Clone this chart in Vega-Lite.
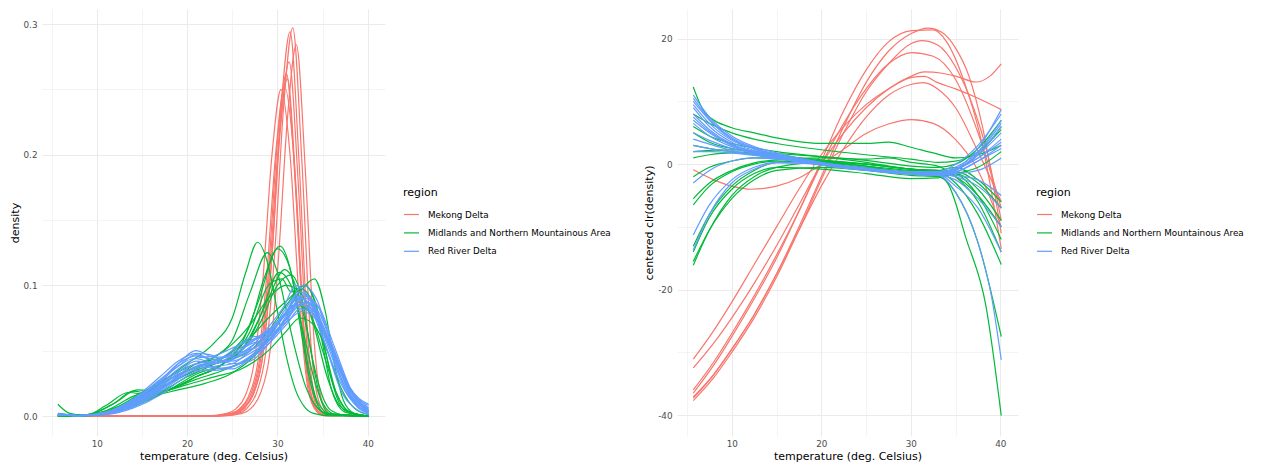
{
"$schema":"https://vega.github.io/schema/vega-lite/v6.json",
"background":"white",
"padding":{"left":9,"top":9,"right":0,"bottom":0},
"autosize":{"type":"pad"},
"config":{
"font":"DejaVu Sans",
"view":{"stroke":null},
"axis":{"domain":false,"ticks":false,"gridColor":"#EBEBEB","labelColor":"#4D4D4D","labelFontSize":8.8,"titleFontSize":11,"titleColor":"#000000","titleFontWeight":"normal","labelPadding":5,"titlePadding":3},
"legend":{"titleFontSize":11,"titleFontWeight":"normal","titleColor":"#000000","labelFontSize":8.8,"labelColor":"#000000","symbolType":"stroke","symbolSize":225,"symbolStrokeWidth":1.2,"rowPadding":4.4,"labelOffset":8,"titlePadding":8,"padding":0,"labelLimit":400}
},
"datasets":{
"reg":[
{"c":"M1","region":"Mekong Delta"},{"c":"M2","region":"Mekong Delta"},{"c":"M3","region":"Mekong Delta"},{"c":"M4","region":"Mekong Delta"},{"c":"M5","region":"Mekong Delta"},{"c":"M6","region":"Mekong Delta"},{"c":"M7","region":"Mekong Delta"},{"c":"M8","region":"Mekong Delta"},
{"c":"G1","region":"Midlands and Northern Mountainous Area"},{"c":"G2","region":"Midlands and Northern Mountainous Area"},{"c":"G3","region":"Midlands and Northern Mountainous Area"},{"c":"G4","region":"Midlands and Northern Mountainous Area"},{"c":"G5","region":"Midlands and Northern Mountainous Area"},{"c":"G6","region":"Midlands and Northern Mountainous Area"},{"c":"G7","region":"Midlands and Northern Mountainous Area"},{"c":"G8","region":"Midlands and Northern Mountainous Area"},{"c":"G9","region":"Midlands and Northern Mountainous Area"},{"c":"G10","region":"Midlands and Northern Mountainous Area"},{"c":"G11","region":"Midlands and Northern Mountainous Area"},{"c":"G12","region":"Midlands and Northern Mountainous Area"},{"c":"G13","region":"Midlands and Northern Mountainous Area"},{"c":"G14","region":"Midlands and Northern Mountainous Area"},
{"c":"B1","region":"Red River Delta"},{"c":"B2","region":"Red River Delta"},{"c":"B3","region":"Red River Delta"},{"c":"B4","region":"Red River Delta"},{"c":"B5","region":"Red River Delta"},{"c":"B6","region":"Red River Delta"},{"c":"B7","region":"Red River Delta"},{"c":"B8","region":"Red River Delta"},{"c":"B9","region":"Red River Delta"},{"c":"B10","region":"Red River Delta"},{"c":"B11","region":"Red River Delta"},{"c":"B12","region":"Red River Delta"},{"c":"B13","region":"Red River Delta"},{"c":"B14","region":"Red River Delta"},{"c":"B15","region":"Red River Delta"},{"c":"B16","region":"Red River Delta"}
],
"a":[
{"c":"M1","t":5.7,"y":0},{"c":"M1","t":23.7,"y":0.0001},{"c":"M1","t":25.7,"y":0.002},{"c":"M1","t":26.7,"y":0.0065},{"c":"M1","t":27.7,"y":0.018},{"c":"M1","t":28.7,"y":0.048},{"c":"M1","t":29.7,"y":0.125},{"c":"M1","t":30.7,"y":0.238},{"c":"M1","t":31.7,"y":0.297},{"c":"M1","t":32.7,"y":0.196},{"c":"M1","t":33.7,"y":0.056},{"c":"M1","t":34.7,"y":0.009},{"c":"M1","t":35.7,"y":0.001},{"c":"M1","t":40.1,"y":0},
{"c":"M2","t":5.7,"y":0},{"c":"M2","t":23.4,"y":0.0001},{"c":"M2","t":25.4,"y":0.002},{"c":"M2","t":26.4,"y":0.0065},{"c":"M2","t":27.4,"y":0.018},{"c":"M2","t":28.4,"y":0.047},{"c":"M2","t":29.4,"y":0.123},{"c":"M2","t":30.4,"y":0.235},{"c":"M2","t":31.4,"y":0.294},{"c":"M2","t":32.4,"y":0.194},{"c":"M2","t":33.4,"y":0.056},{"c":"M2","t":34.4,"y":0.009},{"c":"M2","t":35.4,"y":0.001},{"c":"M2","t":40.1,"y":0},
{"c":"M3","t":5.7,"y":0},{"c":"M3","t":24.1,"y":0.0001},{"c":"M3","t":26.1,"y":0.002},{"c":"M3","t":27.1,"y":0.006},{"c":"M3","t":28.1,"y":0.017},{"c":"M3","t":29.1,"y":0.045},{"c":"M3","t":30.1,"y":0.119},{"c":"M3","t":31.1,"y":0.227},{"c":"M3","t":32.1,"y":0.284},{"c":"M3","t":33.1,"y":0.187},{"c":"M3","t":34.1,"y":0.054},{"c":"M3","t":35.1,"y":0.0085},{"c":"M3","t":36.1,"y":0.001},{"c":"M3","t":40.1,"y":0},
{"c":"M4","t":5.7,"y":0},{"c":"M4","t":23.3,"y":0.0001},{"c":"M4","t":25.3,"y":0.002},{"c":"M4","t":26.3,"y":0.006},{"c":"M4","t":27.3,"y":0.016},{"c":"M4","t":28.3,"y":0.043},{"c":"M4","t":29.3,"y":0.114},{"c":"M4","t":30.3,"y":0.217},{"c":"M4","t":31.3,"y":0.271},{"c":"M4","t":32.3,"y":0.179},{"c":"M4","t":33.3,"y":0.051},{"c":"M4","t":34.3,"y":0.008},{"c":"M4","t":35.3,"y":0.001},{"c":"M4","t":40.1,"y":0},
{"c":"M5","t":5.7,"y":0},{"c":"M5","t":23.1,"y":0.0001},{"c":"M5","t":25.1,"y":0.002},{"c":"M5","t":26.1,"y":0.0057},{"c":"M5","t":27.1,"y":0.015},{"c":"M5","t":28.1,"y":0.041},{"c":"M5","t":29.1,"y":0.108},{"c":"M5","t":30.1,"y":0.206},{"c":"M5","t":31.1,"y":0.258},{"c":"M5","t":32.1,"y":0.17},{"c":"M5","t":33.1,"y":0.049},{"c":"M5","t":34.1,"y":0.008},{"c":"M5","t":35.1,"y":0.001},{"c":"M5","t":40.1,"y":0},
{"c":"M6","t":5.7,"y":0},{"c":"M6","t":22.4,"y":0.0001},{"c":"M6","t":24.4,"y":0.002},{"c":"M6","t":25.4,"y":0.0055},{"c":"M6","t":26.4,"y":0.015},{"c":"M6","t":27.4,"y":0.04},{"c":"M6","t":28.4,"y":0.105},{"c":"M6","t":29.4,"y":0.2},{"c":"M6","t":30.4,"y":0.25},{"c":"M6","t":31.4,"y":0.2},{"c":"M6","t":32.4,"y":0.09},{"c":"M6","t":33.4,"y":0.02},{"c":"M6","t":34.4,"y":0.003},{"c":"M6","t":35.4,"y":0},{"c":"M6","t":40.1,"y":0},
{"c":"M7","t":5.7,"y":0},{"c":"M7","t":22.8,"y":0.0001},{"c":"M7","t":24.8,"y":0.002},{"c":"M7","t":25.8,"y":0.0055},{"c":"M7","t":26.8,"y":0.015},{"c":"M7","t":27.8,"y":0.04},{"c":"M7","t":28.8,"y":0.106},{"c":"M7","t":29.8,"y":0.2},{"c":"M7","t":30.8,"y":0.252},{"c":"M7","t":31.8,"y":0.2},{"c":"M7","t":32.8,"y":0.08},{"c":"M7","t":33.8,"y":0.015},{"c":"M7","t":34.8,"y":0.002},{"c":"M7","t":40.1,"y":0},
{"c":"M8","t":5.7,"y":0},{"c":"M8","t":23,"y":0.0001},{"c":"M8","t":25,"y":0.002},{"c":"M8","t":26,"y":0.006},{"c":"M8","t":27,"y":0.016},{"c":"M8","t":28,"y":0.042},{"c":"M8","t":29,"y":0.11},{"c":"M8","t":30,"y":0.21},{"c":"M8","t":31,"y":0.262},{"c":"M8","t":32,"y":0.175},{"c":"M8","t":33,"y":0.05},{"c":"M8","t":34,"y":0.008},{"c":"M8","t":35,"y":0.001},{"c":"M8","t":40.1,"y":0},
{"c":"G1","t":5.7,"y":0.002},{"c":"G1","t":8,"y":0.0005},{"c":"G1","t":11,"y":0.003},{"c":"G1","t":14,"y":0.012},{"c":"G1","t":17,"y":0.025},{"c":"G1","t":20,"y":0.04},{"c":"G1","t":23,"y":0.056},{"c":"G1","t":25,"y":0.075},{"c":"G1","t":26.5,"y":0.11},{"c":"G1","t":27.8,"y":0.133},{"c":"G1","t":29,"y":0.115},{"c":"G1","t":30,"y":0.08},{"c":"G1","t":31,"y":0.045},{"c":"G1","t":32,"y":0.02},{"c":"G1","t":33,"y":0.007},{"c":"G1","t":34,"y":0.002},{"c":"G1","t":36,"y":0},{"c":"G1","t":40.1,"y":0},
{"c":"G2","t":5.7,"y":0.001},{"c":"G2","t":8,"y":0.0005},{"c":"G2","t":11,"y":0.004},{"c":"G2","t":14,"y":0.015},{"c":"G2","t":17,"y":0.022},{"c":"G2","t":20,"y":0.032},{"c":"G2","t":23,"y":0.045},{"c":"G2","t":25,"y":0.058},{"c":"G2","t":27,"y":0.095},{"c":"G2","t":28.9,"y":0.125},{"c":"G2","t":30,"y":0.11},{"c":"G2","t":31,"y":0.08},{"c":"G2","t":32,"y":0.05},{"c":"G2","t":33,"y":0.025},{"c":"G2","t":34,"y":0.01},{"c":"G2","t":35,"y":0.003},{"c":"G2","t":36,"y":0.001},{"c":"G2","t":40.1,"y":0},
{"c":"G3","t":5.7,"y":0},{"c":"G3","t":8,"y":0.0002},{"c":"G3","t":11,"y":0.002},{"c":"G3","t":14,"y":0.008},{"c":"G3","t":17,"y":0.018},{"c":"G3","t":20,"y":0.03},{"c":"G3","t":23,"y":0.04},{"c":"G3","t":25,"y":0.05},{"c":"G3","t":27,"y":0.07},{"c":"G3","t":28.5,"y":0.105},{"c":"G3","t":30.3,"y":0.13},{"c":"G3","t":31.5,"y":0.11},{"c":"G3","t":32.5,"y":0.07},{"c":"G3","t":33.5,"y":0.03},{"c":"G3","t":34.5,"y":0.008},{"c":"G3","t":35.5,"y":0.001},{"c":"G3","t":40.1,"y":0},
{"c":"G4","t":5.7,"y":0.009},{"c":"G4","t":7,"y":0.002},{"c":"G4","t":9,"y":0.0002},{"c":"G4","t":12,"y":0.004},{"c":"G4","t":15,"y":0.015},{"c":"G4","t":18,"y":0.02},{"c":"G4","t":21,"y":0.03},{"c":"G4","t":24,"y":0.04},{"c":"G4","t":26,"y":0.055},{"c":"G4","t":28,"y":0.09},{"c":"G4","t":30,"y":0.128},{"c":"G4","t":31.3,"y":0.115},{"c":"G4","t":32.5,"y":0.075},{"c":"G4","t":33.5,"y":0.035},{"c":"G4","t":34.5,"y":0.01},{"c":"G4","t":36,"y":0.001},{"c":"G4","t":40.1,"y":0},
{"c":"G5","t":5.7,"y":0},{"c":"G5","t":9,"y":0.001},{"c":"G5","t":12,"y":0.01},{"c":"G5","t":14,"y":0.019},{"c":"G5","t":16,"y":0.017},{"c":"G5","t":18,"y":0.02},{"c":"G5","t":21,"y":0.03},{"c":"G5","t":24,"y":0.04},{"c":"G5","t":27,"y":0.06},{"c":"G5","t":29,"y":0.09},{"c":"G5","t":30.8,"y":0.112},{"c":"G5","t":32,"y":0.1},{"c":"G5","t":33,"y":0.075},{"c":"G5","t":34,"y":0.04},{"c":"G5","t":35,"y":0.015},{"c":"G5","t":36,"y":0.004},{"c":"G5","t":38,"y":0},{"c":"G5","t":40.1,"y":0},
{"c":"G6","t":5.7,"y":0},{"c":"G6","t":9,"y":0.0005},{"c":"G6","t":12,"y":0.004},{"c":"G6","t":15,"y":0.012},{"c":"G6","t":18,"y":0.02},{"c":"G6","t":21,"y":0.028},{"c":"G6","t":24,"y":0.035},{"c":"G6","t":27,"y":0.045},{"c":"G6","t":29,"y":0.06},{"c":"G6","t":31,"y":0.08},{"c":"G6","t":32.5,"y":0.095},{"c":"G6","t":34.1,"y":0.105},{"c":"G6","t":35.3,"y":0.08},{"c":"G6","t":36.3,"y":0.04},{"c":"G6","t":37.3,"y":0.012},{"c":"G6","t":38.5,"y":0.002},{"c":"G6","t":40.1,"y":0},
{"c":"G7","t":5.7,"y":0},{"c":"G7","t":9,"y":0.0005},{"c":"G7","t":12,"y":0.005},{"c":"G7","t":15,"y":0.016},{"c":"G7","t":18,"y":0.025},{"c":"G7","t":21,"y":0.035},{"c":"G7","t":24,"y":0.042},{"c":"G7","t":27,"y":0.05},{"c":"G7","t":29,"y":0.065},{"c":"G7","t":31,"y":0.085},{"c":"G7","t":33,"y":0.1},{"c":"G7","t":34.3,"y":0.085},{"c":"G7","t":35.3,"y":0.05},{"c":"G7","t":36.3,"y":0.02},{"c":"G7","t":37.5,"y":0.004},{"c":"G7","t":40.1,"y":0},
{"c":"G8","t":5.7,"y":0},{"c":"G8","t":9,"y":0.001},{"c":"G8","t":12,"y":0.006},{"c":"G8","t":15,"y":0.018},{"c":"G8","t":18,"y":0.03},{"c":"G8","t":21,"y":0.04},{"c":"G8","t":24,"y":0.045},{"c":"G8","t":26,"y":0.05},{"c":"G8","t":28,"y":0.07},{"c":"G8","t":30,"y":0.1},{"c":"G8","t":31.5,"y":0.108},{"c":"G8","t":32.7,"y":0.09},{"c":"G8","t":33.7,"y":0.05},{"c":"G8","t":34.7,"y":0.015},{"c":"G8","t":35.7,"y":0.002},{"c":"G8","t":40.1,"y":0},
{"c":"G9","t":5.7,"y":0},{"c":"G9","t":9,"y":0.001},{"c":"G9","t":11,"y":0.008},{"c":"G9","t":13.5,"y":0.018},{"c":"G9","t":16,"y":0.016},{"c":"G9","t":19,"y":0.02},{"c":"G9","t":22,"y":0.025},{"c":"G9","t":25,"y":0.033},{"c":"G9","t":28,"y":0.05},{"c":"G9","t":30,"y":0.07},{"c":"G9","t":32,"y":0.085},{"c":"G9","t":33.5,"y":0.08},{"c":"G9","t":35,"y":0.05},{"c":"G9","t":36.5,"y":0.018},{"c":"G9","t":38,"y":0.003},{"c":"G9","t":40.1,"y":0},
{"c":"G10","t":5.7,"y":0},{"c":"G10","t":9,"y":0.0003},{"c":"G10","t":12,"y":0.003},{"c":"G10","t":15,"y":0.012},{"c":"G10","t":18,"y":0.025},{"c":"G10","t":21,"y":0.04},{"c":"G10","t":23,"y":0.045},{"c":"G10","t":25,"y":0.055},{"c":"G10","t":27,"y":0.07},{"c":"G10","t":29,"y":0.09},{"c":"G10","t":31,"y":0.1},{"c":"G10","t":32.5,"y":0.095},{"c":"G10","t":34,"y":0.07},{"c":"G10","t":35.5,"y":0.03},{"c":"G10","t":37,"y":0.007},{"c":"G10","t":39,"y":0.001},{"c":"G10","t":40.1,"y":0},
{"c":"G11","t":5.7,"y":0},{"c":"G11","t":9,"y":0.0005},{"c":"G11","t":12,"y":0.005},{"c":"G11","t":15,"y":0.014},{"c":"G11","t":18,"y":0.02},{"c":"G11","t":21,"y":0.03},{"c":"G11","t":24,"y":0.04},{"c":"G11","t":27,"y":0.065},{"c":"G11","t":29,"y":0.1},{"c":"G11","t":30.5,"y":0.105},{"c":"G11","t":31.5,"y":0.095},{"c":"G11","t":33,"y":0.1},{"c":"G11","t":34,"y":0.09},{"c":"G11","t":35,"y":0.055},{"c":"G11","t":36,"y":0.02},{"c":"G11","t":37.5,"y":0.003},{"c":"G11","t":40.1,"y":0},
{"c":"G12","t":5.7,"y":0},{"c":"G12","t":9,"y":0.001},{"c":"G12","t":12,"y":0.01},{"c":"G12","t":14.5,"y":0.02},{"c":"G12","t":17,"y":0.019},{"c":"G12","t":20,"y":0.024},{"c":"G12","t":23,"y":0.03},{"c":"G12","t":26,"y":0.036},{"c":"G12","t":29,"y":0.05},{"c":"G12","t":31,"y":0.065},{"c":"G12","t":32.5,"y":0.075},{"c":"G12","t":34,"y":0.07},{"c":"G12","t":35.5,"y":0.05},{"c":"G12","t":37,"y":0.022},{"c":"G12","t":38.5,"y":0.006},{"c":"G12","t":40.1,"y":0.001},
{"c":"G13","t":5.7,"y":0},{"c":"G13","t":9,"y":0.0005},{"c":"G13","t":12,"y":0.003},{"c":"G13","t":15,"y":0.01},{"c":"G13","t":18,"y":0.02},{"c":"G13","t":21,"y":0.032},{"c":"G13","t":24,"y":0.04},{"c":"G13","t":26,"y":0.05},{"c":"G13","t":28,"y":0.075},{"c":"G13","t":30.2,"y":0.11},{"c":"G13","t":31.5,"y":0.1},{"c":"G13","t":33,"y":0.06},{"c":"G13","t":34,"y":0.03},{"c":"G13","t":35,"y":0.01},{"c":"G13","t":36.5,"y":0.001},{"c":"G13","t":40.1,"y":0},
{"c":"G14","t":5.7,"y":0},{"c":"G14","t":9,"y":0.0007},{"c":"G14","t":12,"y":0.006},{"c":"G14","t":15,"y":0.016},{"c":"G14","t":18,"y":0.028},{"c":"G14","t":21,"y":0.037},{"c":"G14","t":24,"y":0.045},{"c":"G14","t":27,"y":0.06},{"c":"G14","t":29,"y":0.075},{"c":"G14","t":31,"y":0.088},{"c":"G14","t":32.7,"y":0.097},{"c":"G14","t":34,"y":0.085},{"c":"G14","t":35.3,"y":0.05},{"c":"G14","t":36.5,"y":0.018},{"c":"G14","t":38,"y":0.003},{"c":"G14","t":40.1,"y":0},
{"c":"B1","t":5.7,"y":0.001},{"c":"B1","t":8,"y":0.0002},{"c":"B1","t":11,"y":0.002},{"c":"B1","t":14,"y":0.01},{"c":"B1","t":17,"y":0.025},{"c":"B1","t":19,"y":0.04},{"c":"B1","t":21,"y":0.05},{"c":"B1","t":23,"y":0.045},{"c":"B1","t":25,"y":0.045},{"c":"B1","t":27,"y":0.05},{"c":"B1","t":29,"y":0.06},{"c":"B1","t":31,"y":0.08},{"c":"B1","t":32.5,"y":0.095},{"c":"B1","t":34,"y":0.085},{"c":"B1","t":36,"y":0.05},{"c":"B1","t":38,"y":0.018},{"c":"B1","t":40.1,"y":0.003},
{"c":"B2","t":5.7,"y":0.001},{"c":"B2","t":8,"y":0.0003},{"c":"B2","t":11,"y":0.003},{"c":"B2","t":14,"y":0.012},{"c":"B2","t":17,"y":0.028},{"c":"B2","t":19,"y":0.038},{"c":"B2","t":21,"y":0.047},{"c":"B2","t":23,"y":0.043},{"c":"B2","t":25,"y":0.042},{"c":"B2","t":27,"y":0.048},{"c":"B2","t":29,"y":0.058},{"c":"B2","t":31,"y":0.075},{"c":"B2","t":32.3,"y":0.088},{"c":"B2","t":34,"y":0.08},{"c":"B2","t":36,"y":0.052},{"c":"B2","t":38,"y":0.02},{"c":"B2","t":40.1,"y":0.008},
{"c":"B3","t":5.7,"y":0.001},{"c":"B3","t":8,"y":0.0002},{"c":"B3","t":11,"y":0.0015},{"c":"B3","t":14,"y":0.007},{"c":"B3","t":17,"y":0.018},{"c":"B3","t":19,"y":0.028},{"c":"B3","t":21,"y":0.036},{"c":"B3","t":23,"y":0.038},{"c":"B3","t":25,"y":0.04},{"c":"B3","t":27,"y":0.05},{"c":"B3","t":29,"y":0.062},{"c":"B3","t":31,"y":0.08},{"c":"B3","t":32.8,"y":0.1},{"c":"B3","t":34.3,"y":0.09},{"c":"B3","t":36,"y":0.055},{"c":"B3","t":38,"y":0.017},{"c":"B3","t":40.1,"y":0.002},
{"c":"B4","t":5.7,"y":0.001},{"c":"B4","t":8,"y":0.0003},{"c":"B4","t":11,"y":0.002},{"c":"B4","t":14,"y":0.009},{"c":"B4","t":17,"y":0.022},{"c":"B4","t":19,"y":0.033},{"c":"B4","t":21,"y":0.042},{"c":"B4","t":23,"y":0.04},{"c":"B4","t":25,"y":0.046},{"c":"B4","t":27,"y":0.056},{"c":"B4","t":29,"y":0.065},{"c":"B4","t":31,"y":0.078},{"c":"B4","t":32.5,"y":0.085},{"c":"B4","t":34,"y":0.078},{"c":"B4","t":36,"y":0.05},{"c":"B4","t":38,"y":0.02},{"c":"B4","t":40.1,"y":0.004},
{"c":"B5","t":5.7,"y":0.001},{"c":"B5","t":8,"y":0.0003},{"c":"B5","t":11,"y":0.0025},{"c":"B5","t":14,"y":0.011},{"c":"B5","t":17,"y":0.024},{"c":"B5","t":19,"y":0.036},{"c":"B5","t":21,"y":0.044},{"c":"B5","t":23,"y":0.046},{"c":"B5","t":25,"y":0.052},{"c":"B5","t":27,"y":0.058},{"c":"B5","t":29,"y":0.062},{"c":"B5","t":31,"y":0.072},{"c":"B5","t":32.7,"y":0.08},{"c":"B5","t":34.3,"y":0.074},{"c":"B5","t":36,"y":0.05},{"c":"B5","t":38,"y":0.022},{"c":"B5","t":40.1,"y":0.006},
{"c":"B6","t":5.7,"y":0.001},{"c":"B6","t":8,"y":0.0002},{"c":"B6","t":11,"y":0.001},{"c":"B6","t":14,"y":0.006},{"c":"B6","t":17,"y":0.016},{"c":"B6","t":19,"y":0.026},{"c":"B6","t":21,"y":0.034},{"c":"B6","t":23,"y":0.036},{"c":"B6","t":25,"y":0.038},{"c":"B6","t":27,"y":0.045},{"c":"B6","t":29,"y":0.057},{"c":"B6","t":31,"y":0.077},{"c":"B6","t":32,"y":0.09},{"c":"B6","t":33.3,"y":0.093},{"c":"B6","t":35,"y":0.07},{"c":"B6","t":37,"y":0.03},{"c":"B6","t":39,"y":0.006},{"c":"B6","t":40.1,"y":0.002},
{"c":"B7","t":5.7,"y":0.001},{"c":"B7","t":8,"y":0.0003},{"c":"B7","t":11,"y":0.003},{"c":"B7","t":14,"y":0.013},{"c":"B7","t":17,"y":0.03},{"c":"B7","t":19,"y":0.042},{"c":"B7","t":21,"y":0.048},{"c":"B7","t":22.5,"y":0.047},{"c":"B7","t":25,"y":0.04},{"c":"B7","t":27,"y":0.042},{"c":"B7","t":29,"y":0.055},{"c":"B7","t":31,"y":0.075},{"c":"B7","t":32.5,"y":0.09},{"c":"B7","t":34,"y":0.082},{"c":"B7","t":36,"y":0.052},{"c":"B7","t":38,"y":0.02},{"c":"B7","t":40.1,"y":0.005},
{"c":"B8","t":5.7,"y":0.001},{"c":"B8","t":8,"y":0.0002},{"c":"B8","t":11,"y":0.002},{"c":"B8","t":14,"y":0.009},{"c":"B8","t":17,"y":0.02},{"c":"B8","t":19,"y":0.03},{"c":"B8","t":21,"y":0.038},{"c":"B8","t":23,"y":0.04},{"c":"B8","t":25,"y":0.043},{"c":"B8","t":27,"y":0.052},{"c":"B8","t":29,"y":0.068},{"c":"B8","t":30.8,"y":0.085},{"c":"B8","t":32,"y":0.1},{"c":"B8","t":33.5,"y":0.09},{"c":"B8","t":35.3,"y":0.055},{"c":"B8","t":37,"y":0.02},{"c":"B8","t":39,"y":0.004},{"c":"B8","t":40.1,"y":0.001},
{"c":"B9","t":5.7,"y":0.001},{"c":"B9","t":8,"y":0.0003},{"c":"B9","t":11,"y":0.002},{"c":"B9","t":14,"y":0.01},{"c":"B9","t":17,"y":0.023},{"c":"B9","t":19,"y":0.034},{"c":"B9","t":21,"y":0.04},{"c":"B9","t":23,"y":0.042},{"c":"B9","t":25,"y":0.05},{"c":"B9","t":27,"y":0.06},{"c":"B9","t":28.5,"y":0.062},{"c":"B9","t":30,"y":0.07},{"c":"B9","t":32,"y":0.085},{"c":"B9","t":33.8,"y":0.082},{"c":"B9","t":35.5,"y":0.055},{"c":"B9","t":37.5,"y":0.02},{"c":"B9","t":40.1,"y":0.003},
{"c":"B10","t":5.7,"y":0.001},{"c":"B10","t":8,"y":0.0002},{"c":"B10","t":11,"y":0.0015},{"c":"B10","t":14,"y":0.008},{"c":"B10","t":17,"y":0.02},{"c":"B10","t":19,"y":0.031},{"c":"B10","t":21,"y":0.04},{"c":"B10","t":23,"y":0.037},{"c":"B10","t":25,"y":0.036},{"c":"B10","t":27,"y":0.044},{"c":"B10","t":29,"y":0.055},{"c":"B10","t":31,"y":0.07},{"c":"B10","t":32.5,"y":0.082},{"c":"B10","t":34.5,"y":0.075},{"c":"B10","t":36.5,"y":0.045},{"c":"B10","t":38.5,"y":0.015},{"c":"B10","t":40.1,"y":0.006},
{"c":"B11","t":5.7,"y":0.001},{"c":"B11","t":8,"y":0.0003},{"c":"B11","t":11,"y":0.0025},{"c":"B11","t":14,"y":0.011},{"c":"B11","t":17,"y":0.026},{"c":"B11","t":19,"y":0.038},{"c":"B11","t":20.8,"y":0.044},{"c":"B11","t":23,"y":0.041},{"c":"B11","t":25,"y":0.044},{"c":"B11","t":27,"y":0.053},{"c":"B11","t":29,"y":0.063},{"c":"B11","t":31,"y":0.083},{"c":"B11","t":32,"y":0.092},{"c":"B11","t":33.3,"y":0.087},{"c":"B11","t":35,"y":0.06},{"c":"B11","t":37,"y":0.025},{"c":"B11","t":39,"y":0.006},{"c":"B11","t":40.1,"y":0.002},
{"c":"B12","t":5.7,"y":0.001},{"c":"B12","t":8,"y":0.0003},{"c":"B12","t":11,"y":0.002},{"c":"B12","t":14,"y":0.01},{"c":"B12","t":17,"y":0.022},{"c":"B12","t":19,"y":0.032},{"c":"B12","t":21,"y":0.037},{"c":"B12","t":23,"y":0.04},{"c":"B12","t":25,"y":0.046},{"c":"B12","t":27,"y":0.055},{"c":"B12","t":29,"y":0.06},{"c":"B12","t":31,"y":0.074},{"c":"B12","t":33,"y":0.087},{"c":"B12","t":34.5,"y":0.08},{"c":"B12","t":36.3,"y":0.05},{"c":"B12","t":38,"y":0.022},{"c":"B12","t":40.1,"y":0.009},
{"c":"B13","t":5.7,"y":0.002},{"c":"B13","t":8,"y":0.0003},{"c":"B13","t":11,"y":0.002},{"c":"B13","t":14,"y":0.009},{"c":"B13","t":17,"y":0.021},{"c":"B13","t":19,"y":0.03},{"c":"B13","t":21,"y":0.038},{"c":"B13","t":23,"y":0.042},{"c":"B13","t":25,"y":0.048},{"c":"B13","t":27,"y":0.057},{"c":"B13","t":29,"y":0.066},{"c":"B13","t":31,"y":0.08},{"c":"B13","t":32.3,"y":0.09},{"c":"B13","t":33.8,"y":0.085},{"c":"B13","t":35.5,"y":0.058},{"c":"B13","t":37.5,"y":0.022},{"c":"B13","t":40.1,"y":0.004},
{"c":"B14","t":5.7,"y":0.001},{"c":"B14","t":8,"y":0.0002},{"c":"B14","t":11,"y":0.002},{"c":"B14","t":14,"y":0.008},{"c":"B14","t":17,"y":0.019},{"c":"B14","t":19,"y":0.029},{"c":"B14","t":21,"y":0.035},{"c":"B14","t":23,"y":0.035},{"c":"B14","t":25,"y":0.038},{"c":"B14","t":27,"y":0.046},{"c":"B14","t":29,"y":0.058},{"c":"B14","t":31,"y":0.074},{"c":"B14","t":33,"y":0.09},{"c":"B14","t":34.6,"y":0.083},{"c":"B14","t":36.3,"y":0.053},{"c":"B14","t":38.3,"y":0.018},{"c":"B14","t":40.1,"y":0.004},
{"c":"B15","t":5.7,"y":0.001},{"c":"B15","t":8,"y":0.0003},{"c":"B15","t":11,"y":0.0025},{"c":"B15","t":14,"y":0.012},{"c":"B15","t":17,"y":0.027},{"c":"B15","t":19,"y":0.04},{"c":"B15","t":21,"y":0.046},{"c":"B15","t":23,"y":0.043},{"c":"B15","t":25,"y":0.047},{"c":"B15","t":27,"y":0.051},{"c":"B15","t":29,"y":0.058},{"c":"B15","t":31,"y":0.072},{"c":"B15","t":32.8,"y":0.092},{"c":"B15","t":34.3,"y":0.086},{"c":"B15","t":36,"y":0.055},{"c":"B15","t":38,"y":0.02},{"c":"B15","t":40.1,"y":0.003}
],
"b":[
{"c":"M1","t":5.7,"y":-37.1},{"c":"M1","t":8,"y":-33.5},{"c":"M1","t":10,"y":-29.5},{"c":"M1","t":12.5,"y":-24},{"c":"M1","t":15,"y":-17.5},{"c":"M1","t":17.5,"y":-10},{"c":"M1","t":20,"y":-2},{"c":"M1","t":22.5,"y":6},{"c":"M1","t":25,"y":13},{"c":"M1","t":27.5,"y":18},{"c":"M1","t":30,"y":20.8},{"c":"M1","t":31.9,"y":21.7},{"c":"M1","t":33.5,"y":21},{"c":"M1","t":35,"y":18.5},{"c":"M1","t":36.5,"y":14},{"c":"M1","t":38,"y":6},{"c":"M1","t":40.1,"y":-11},
{"c":"M2","t":5.7,"y":-36.5},{"c":"M2","t":8,"y":-32},{"c":"M2","t":10,"y":-27.5},{"c":"M2","t":12.5,"y":-21.5},{"c":"M2","t":15,"y":-15},{"c":"M2","t":17.5,"y":-7.5},{"c":"M2","t":20,"y":0.5},{"c":"M2","t":22.5,"y":8.5},{"c":"M2","t":25,"y":15},{"c":"M2","t":27.5,"y":19.5},{"c":"M2","t":30.1,"y":21.3},{"c":"M2","t":32.5,"y":21.4},{"c":"M2","t":34,"y":19.5},{"c":"M2","t":36,"y":13},{"c":"M2","t":38,"y":3},{"c":"M2","t":40.1,"y":-13.5},
{"c":"M3","t":5.7,"y":-37.7},{"c":"M3","t":8,"y":-34},{"c":"M3","t":10,"y":-30},{"c":"M3","t":12.5,"y":-24.5},{"c":"M3","t":15,"y":-18},{"c":"M3","t":17.5,"y":-10.5},{"c":"M3","t":20,"y":-2.5},{"c":"M3","t":22.5,"y":5},{"c":"M3","t":25,"y":11.5},{"c":"M3","t":27.5,"y":16},{"c":"M3","t":30,"y":19.2},{"c":"M3","t":31.2,"y":19.7},{"c":"M3","t":33,"y":19},{"c":"M3","t":35,"y":15.5},{"c":"M3","t":37,"y":9},{"c":"M3","t":38.5,"y":2},{"c":"M3","t":40.1,"y":-9},
{"c":"M4","t":5.7,"y":-36},{"c":"M4","t":8,"y":-31.5},{"c":"M4","t":10,"y":-27},{"c":"M4","t":12.5,"y":-21},{"c":"M4","t":15,"y":-14.5},{"c":"M4","t":17.5,"y":-7.5},{"c":"M4","t":20,"y":0},{"c":"M4","t":22.5,"y":6.5},{"c":"M4","t":25,"y":12},{"c":"M4","t":27.5,"y":16},{"c":"M4","t":30.1,"y":17.8},{"c":"M4","t":32.5,"y":17.2},{"c":"M4","t":35,"y":13.5},{"c":"M4","t":37.5,"y":5},{"c":"M4","t":40.1,"y":-7},
{"c":"M5","t":5.7,"y":-32.5},{"c":"M5","t":8,"y":-28.5},{"c":"M5","t":10,"y":-24.5},{"c":"M5","t":12.5,"y":-19},{"c":"M5","t":15,"y":-13},{"c":"M5","t":17.5,"y":-6.5},{"c":"M5","t":20,"y":0},{"c":"M5","t":22.5,"y":5},{"c":"M5","t":25,"y":9},{"c":"M5","t":27.5,"y":12},{"c":"M5","t":30,"y":14},{"c":"M5","t":31.5,"y":14.7},{"c":"M5","t":33.5,"y":14.5},{"c":"M5","t":35.1,"y":14},{"c":"M5","t":37.3,"y":13.1},{"c":"M5","t":38.8,"y":14},{"c":"M5","t":40.1,"y":16},
{"c":"M6","t":5.7,"y":-31.1},{"c":"M6","t":8,"y":-26.5},{"c":"M6","t":10,"y":-22},{"c":"M6","t":12.5,"y":-16},{"c":"M6","t":15,"y":-10},{"c":"M6","t":17.5,"y":-4},{"c":"M6","t":20,"y":1.5},{"c":"M6","t":22.5,"y":6},{"c":"M6","t":25,"y":9.5},{"c":"M6","t":27.5,"y":12},{"c":"M6","t":30,"y":13.8},{"c":"M6","t":31.5,"y":14},{"c":"M6","t":33,"y":13},{"c":"M6","t":35,"y":12},{"c":"M6","t":37.5,"y":10.5},{"c":"M6","t":40.1,"y":8.7},
{"c":"M7","t":5.7,"y":-37.3},{"c":"M7","t":8,"y":-33.5},{"c":"M7","t":10,"y":-29.5},{"c":"M7","t":12.5,"y":-24},{"c":"M7","t":15,"y":-17.5},{"c":"M7","t":17.5,"y":-10.5},{"c":"M7","t":20,"y":-3.5},{"c":"M7","t":22.5,"y":2.5},{"c":"M7","t":25,"y":7.5},{"c":"M7","t":27.5,"y":11},{"c":"M7","t":30,"y":12.7},{"c":"M7","t":31.4,"y":13},{"c":"M7","t":33,"y":12},{"c":"M7","t":35,"y":9},{"c":"M7","t":37.5,"y":2},{"c":"M7","t":40.1,"y":-6},
{"c":"M8","t":5.7,"y":-0.9},{"c":"M8","t":8,"y":-2.5},{"c":"M8","t":10,"y":-3.5},{"c":"M8","t":12.2,"y":-4},{"c":"M8","t":15,"y":-3.5},{"c":"M8","t":17.5,"y":-2.2},{"c":"M8","t":20,"y":0},{"c":"M8","t":22.5,"y":2.4},{"c":"M8","t":25,"y":4.9},{"c":"M8","t":27.5,"y":6.4},{"c":"M8","t":30.1,"y":7.1},{"c":"M8","t":32.5,"y":6.5},{"c":"M8","t":35,"y":3.9},{"c":"M8","t":37.5,"y":-1},{"c":"M8","t":40.1,"y":-10},
{"c":"G1","t":5.7,"y":12.3},{"c":"G1","t":7,"y":8.2},{"c":"G1","t":10,"y":5.8},{"c":"G1","t":12.5,"y":5},{"c":"G1","t":15,"y":4.2},{"c":"G1","t":20,"y":3.3},{"c":"G1","t":25,"y":3.3},{"c":"G1","t":27.5,"y":3.5},{"c":"G1","t":30,"y":2.7},{"c":"G1","t":32.5,"y":1.8},{"c":"G1","t":35,"y":1},{"c":"G1","t":37.5,"y":1.5},{"c":"G1","t":40.1,"y":3},
{"c":"G2","t":5.7,"y":8},{"c":"G2","t":7.5,"y":6.5},{"c":"G2","t":10,"y":5},{"c":"G2","t":12.5,"y":4},{"c":"G2","t":15,"y":3.3},{"c":"G2","t":20,"y":2.3},{"c":"G2","t":25,"y":1.5},{"c":"G2","t":30,"y":0.8},{"c":"G2","t":33,"y":0.3},{"c":"G2","t":35,"y":0.5},{"c":"G2","t":37.5,"y":2},{"c":"G2","t":40.1,"y":5.5},
{"c":"G3","t":5.7,"y":5},{"c":"G3","t":7.5,"y":3.5},{"c":"G3","t":10,"y":2.5},{"c":"G3","t":12.5,"y":2},{"c":"G3","t":15,"y":1.5},{"c":"G3","t":20,"y":0.5},{"c":"G3","t":25,"y":-0.3},{"c":"G3","t":30,"y":-1},{"c":"G3","t":33,"y":-1.3},{"c":"G3","t":35,"y":-2},{"c":"G3","t":37.5,"y":-5},{"c":"G3","t":40.1,"y":-10},
{"c":"G4","t":5.7,"y":3},{"c":"G4","t":7.5,"y":2.5},{"c":"G4","t":10,"y":2},{"c":"G4","t":12.5,"y":1.8},{"c":"G4","t":15,"y":1.3},{"c":"G4","t":20,"y":0.7},{"c":"G4","t":25,"y":0},{"c":"G4","t":30,"y":-0.8},{"c":"G4","t":33,"y":-1.3},{"c":"G4","t":35,"y":-3},{"c":"G4","t":37.5,"y":-8},{"c":"G4","t":40.1,"y":-16},
{"c":"G5","t":5.7,"y":1},{"c":"G5","t":7.5,"y":1.5},{"c":"G5","t":10,"y":1.8},{"c":"G5","t":12.5,"y":1.6},{"c":"G5","t":15,"y":1.2},{"c":"G5","t":20,"y":0.3},{"c":"G5","t":25,"y":-0.8},{"c":"G5","t":30,"y":-1.5},{"c":"G5","t":33,"y":-1.5},{"c":"G5","t":35,"y":-1.2},{"c":"G5","t":37.5,"y":-3},{"c":"G5","t":40.1,"y":-7},
{"c":"G6","t":5.7,"y":-2},{"c":"G6","t":7.5,"y":-0.5},{"c":"G6","t":10,"y":0.5},{"c":"G6","t":12.5,"y":1},{"c":"G6","t":15,"y":1},{"c":"G6","t":20,"y":0.5},{"c":"G6","t":25,"y":-0.3},{"c":"G6","t":30,"y":-1.5},{"c":"G6","t":33,"y":-1.8},{"c":"G6","t":35,"y":-1.5},{"c":"G6","t":37.5,"y":-0.5},{"c":"G6","t":40.1,"y":2},
{"c":"G7","t":5.7,"y":-6.5},{"c":"G7","t":7.5,"y":-3.5},{"c":"G7","t":10,"y":-1.2},{"c":"G7","t":12.5,"y":0},{"c":"G7","t":15,"y":0.5},{"c":"G7","t":20,"y":0.3},{"c":"G7","t":25,"y":-0.5},{"c":"G7","t":30,"y":-1.2},{"c":"G7","t":33,"y":-1.8},{"c":"G7","t":35,"y":-4.5},{"c":"G7","t":37.5,"y":-12.5},{"c":"G7","t":40.1,"y":-27.5},
{"c":"G8","t":5.7,"y":-13.1},{"c":"G8","t":7.5,"y":-8},{"c":"G8","t":10,"y":-3.5},{"c":"G8","t":12.5,"y":-1},{"c":"G8","t":15,"y":0.3},{"c":"G8","t":20,"y":0.5},{"c":"G8","t":25,"y":0},{"c":"G8","t":30,"y":-0.8},{"c":"G8","t":33,"y":-1},{"c":"G8","t":35,"y":-1.5},{"c":"G8","t":37.5,"y":-5},{"c":"G8","t":40.1,"y":-12},
{"c":"G9","t":5.7,"y":-16.1},{"c":"G9","t":7.5,"y":-10.5},{"c":"G9","t":10,"y":-5},{"c":"G9","t":12.5,"y":-2},{"c":"G9","t":15,"y":-0.5},{"c":"G9","t":20,"y":0.3},{"c":"G9","t":25,"y":0},{"c":"G9","t":30,"y":-0.8},{"c":"G9","t":33,"y":-1.2},{"c":"G9","t":35,"y":-0.8},{"c":"G9","t":37.5,"y":1.5},{"c":"G9","t":40.1,"y":6},
{"c":"G10","t":5.7,"y":-15.5},{"c":"G10","t":7.5,"y":-10.5},{"c":"G10","t":10,"y":-5.5},{"c":"G10","t":12.5,"y":-2.5},{"c":"G10","t":15,"y":-1},{"c":"G10","t":20,"y":-0.5},{"c":"G10","t":25,"y":-1},{"c":"G10","t":30,"y":-1.8},{"c":"G10","t":33,"y":-2},{"c":"G10","t":34,"y":-2.8},{"c":"G10","t":36.2,"y":-12},{"c":"G10","t":38.4,"y":-22.7},{"c":"G10","t":40.1,"y":-40.1},
{"c":"G11","t":5.7,"y":-14},{"c":"G11","t":7.5,"y":-8.5},{"c":"G11","t":10,"y":-4},{"c":"G11","t":12.5,"y":-1.5},{"c":"G11","t":15,"y":-0.5},{"c":"G11","t":20,"y":-0.8},{"c":"G11","t":25,"y":-1.5},{"c":"G11","t":30,"y":-2.3},{"c":"G11","t":33,"y":-2.2},{"c":"G11","t":35,"y":-1.5},{"c":"G11","t":37.5,"y":-4},{"c":"G11","t":40.1,"y":-9},
{"c":"G12","t":5.7,"y":-5.5},{"c":"G12","t":7.5,"y":-3},{"c":"G12","t":10,"y":-1},{"c":"G12","t":12.5,"y":0.2},{"c":"G12","t":15,"y":0.7},{"c":"G12","t":20,"y":1},{"c":"G12","t":25,"y":0.8},{"c":"G12","t":27.5,"y":1},{"c":"G12","t":30,"y":0.3},{"c":"G12","t":33,"y":-0.3},{"c":"G12","t":35,"y":-2},{"c":"G12","t":37.5,"y":-6},{"c":"G12","t":40.1,"y":-14},
{"c":"G13","t":5.7,"y":2},{"c":"G13","t":7.5,"y":2.2},{"c":"G13","t":10,"y":2.3},{"c":"G13","t":12.5,"y":2},{"c":"G13","t":15,"y":1.7},{"c":"G13","t":20,"y":1.2},{"c":"G13","t":25,"y":0.6},{"c":"G13","t":30,"y":-0.3},{"c":"G13","t":33,"y":-0.5},{"c":"G13","t":35,"y":0},{"c":"G13","t":37.5,"y":2.5},{"c":"G13","t":40.1,"y":7},
{"c":"G14","t":5.7,"y":6},{"c":"G14","t":7.5,"y":4.5},{"c":"G14","t":10,"y":3.3},{"c":"G14","t":12.5,"y":2.6},{"c":"G14","t":15,"y":2},{"c":"G14","t":20,"y":1.2},{"c":"G14","t":25,"y":0.3},{"c":"G14","t":30,"y":-0.8},{"c":"G14","t":33,"y":-1},{"c":"G14","t":35,"y":-0.5},{"c":"G14","t":37.5,"y":-2.5},{"c":"G14","t":40.1,"y":-6},
{"c":"B1","t":5.7,"y":11},{"c":"B1","t":7.5,"y":7.5},{"c":"B1","t":10,"y":4.5},{"c":"B1","t":12.5,"y":2.8},{"c":"B1","t":15,"y":1.8},{"c":"B1","t":20,"y":0.3},{"c":"B1","t":25,"y":-0.7},{"c":"B1","t":30,"y":-1.5},{"c":"B1","t":33,"y":-1.6},{"c":"B1","t":35,"y":-0.8},{"c":"B1","t":37.5,"y":2.5},{"c":"B1","t":40.1,"y":8.7},
{"c":"B2","t":5.7,"y":10},{"c":"B2","t":7.5,"y":7},{"c":"B2","t":10,"y":4},{"c":"B2","t":12.5,"y":2.5},{"c":"B2","t":15,"y":1.5},{"c":"B2","t":20,"y":0.2},{"c":"B2","t":25,"y":-0.8},{"c":"B2","t":30,"y":-1.4},{"c":"B2","t":33,"y":-1.4},{"c":"B2","t":35,"y":-0.5},{"c":"B2","t":37.5,"y":2},{"c":"B2","t":40.1,"y":7},
{"c":"B3","t":5.7,"y":9},{"c":"B3","t":7.5,"y":6},{"c":"B3","t":10,"y":3.5},{"c":"B3","t":12.5,"y":2.2},{"c":"B3","t":15,"y":1.3},{"c":"B3","t":20,"y":0},{"c":"B3","t":25,"y":-0.9},{"c":"B3","t":30,"y":-1.6},{"c":"B3","t":33,"y":-1.7},{"c":"B3","t":35,"y":-1},{"c":"B3","t":37.5,"y":1.5},{"c":"B3","t":40.1,"y":6},
{"c":"B4","t":5.7,"y":8},{"c":"B4","t":7.5,"y":5.5},{"c":"B4","t":10,"y":3.2},{"c":"B4","t":12.5,"y":2},{"c":"B4","t":15,"y":1.2},{"c":"B4","t":20,"y":0},{"c":"B4","t":25,"y":-0.8},{"c":"B4","t":30,"y":-1.4},{"c":"B4","t":33,"y":-1.5},{"c":"B4","t":35,"y":-0.8},{"c":"B4","t":37.5,"y":1.5},{"c":"B4","t":40.1,"y":5},
{"c":"B5","t":5.7,"y":6.5},{"c":"B5","t":7.5,"y":4.5},{"c":"B5","t":10,"y":2.8},{"c":"B5","t":12.5,"y":1.8},{"c":"B5","t":15,"y":1},{"c":"B5","t":20,"y":-0.1},{"c":"B5","t":25,"y":-0.9},{"c":"B5","t":30,"y":-1.5},{"c":"B5","t":33,"y":-1.5},{"c":"B5","t":35,"y":-1.2},{"c":"B5","t":37.5,"y":0.5},{"c":"B5","t":40.1,"y":3},
{"c":"B6","t":5.7,"y":5},{"c":"B6","t":7.5,"y":3.8},{"c":"B6","t":10,"y":2.5},{"c":"B6","t":12.5,"y":1.7},{"c":"B6","t":15,"y":1},{"c":"B6","t":20,"y":0},{"c":"B6","t":25,"y":-0.8},{"c":"B6","t":30,"y":-1.3},{"c":"B6","t":33,"y":-1.3},{"c":"B6","t":35,"y":-0.8},{"c":"B6","t":37.5,"y":1},{"c":"B6","t":40.1,"y":4},
{"c":"B7","t":5.7,"y":4},{"c":"B7","t":7.5,"y":3.2},{"c":"B7","t":10,"y":2.2},{"c":"B7","t":12.5,"y":1.5},{"c":"B7","t":15,"y":0.9},{"c":"B7","t":20,"y":-0.1},{"c":"B7","t":25,"y":-0.9},{"c":"B7","t":30,"y":-1.5},{"c":"B7","t":33,"y":-1.6},{"c":"B7","t":35,"y":-1.8},{"c":"B7","t":37.5,"y":-2.5},{"c":"B7","t":40.1,"y":-5},
{"c":"B8","t":5.7,"y":2},{"c":"B8","t":7.5,"y":2},{"c":"B8","t":10,"y":1.8},{"c":"B8","t":12.5,"y":1.4},{"c":"B8","t":15,"y":0.9},{"c":"B8","t":20,"y":-0.1},{"c":"B8","t":25,"y":-0.9},{"c":"B8","t":30,"y":-1.4},{"c":"B8","t":33,"y":-1.7},{"c":"B8","t":35,"y":-2.5},{"c":"B8","t":37.5,"y":-5.5},{"c":"B8","t":40.1,"y":-10},
{"c":"B9","t":5.7,"y":-3},{"c":"B9","t":7.5,"y":-1},{"c":"B9","t":10,"y":0.5},{"c":"B9","t":12.5,"y":1},{"c":"B9","t":15,"y":0.8},{"c":"B9","t":20,"y":0},{"c":"B9","t":25,"y":-0.8},{"c":"B9","t":30,"y":-1.3},{"c":"B9","t":33,"y":-1.3},{"c":"B9","t":35,"y":-0.7},{"c":"B9","t":37.5,"y":1},{"c":"B9","t":40.1,"y":3.5},
{"c":"B10","t":5.7,"y":-11.3},{"c":"B10","t":7.5,"y":-6.5},{"c":"B10","t":10,"y":-2.5},{"c":"B10","t":12.5,"y":-0.5},{"c":"B10","t":15,"y":0.3},{"c":"B10","t":20,"y":0},{"c":"B10","t":25,"y":-0.7},{"c":"B10","t":30,"y":-1.3},{"c":"B10","t":33,"y":-1.5},{"c":"B10","t":35,"y":-3.5},{"c":"B10","t":37.5,"y":-7},{"c":"B10","t":40.1,"y":-14},
{"c":"B11","t":5.7,"y":7},{"c":"B11","t":7.5,"y":5},{"c":"B11","t":10,"y":3},{"c":"B11","t":12.5,"y":2},{"c":"B11","t":15,"y":1.2},{"c":"B11","t":20,"y":0.1},{"c":"B11","t":25,"y":-0.8},{"c":"B11","t":30,"y":-1.5},{"c":"B11","t":33,"y":-1.7},{"c":"B11","t":35,"y":-4.5},{"c":"B11","t":37.5,"y":-12.5},{"c":"B11","t":39,"y":-21},{"c":"B11","t":40.1,"y":-31.2},
{"c":"B12","t":5.7,"y":10.5},{"c":"B12","t":7.5,"y":7.2},{"c":"B12","t":10,"y":4.2},{"c":"B12","t":12.5,"y":2.6},{"c":"B12","t":15,"y":1.6},{"c":"B12","t":20,"y":0.2},{"c":"B12","t":25,"y":-0.6},{"c":"B12","t":30,"y":-1.2},{"c":"B12","t":33,"y":-1.2},{"c":"B12","t":35,"y":0},{"c":"B12","t":37.5,"y":3},{"c":"B12","t":40.1,"y":8},
{"c":"B13","t":5.7,"y":-13.7},{"c":"B13","t":7.5,"y":-8},{"c":"B13","t":10,"y":-3},{"c":"B13","t":12.5,"y":-0.8},{"c":"B13","t":15,"y":0.2},{"c":"B13","t":20,"y":0},{"c":"B13","t":25,"y":-0.8},{"c":"B13","t":30,"y":-1.4},{"c":"B13","t":33,"y":-1.5},{"c":"B13","t":35,"y":-1.5},{"c":"B13","t":37.5,"y":-1},{"c":"B13","t":40.1,"y":1},
{"c":"B14","t":5.7,"y":9.5},{"c":"B14","t":7.5,"y":6.5},{"c":"B14","t":10,"y":3.8},{"c":"B14","t":12.5,"y":2.4},{"c":"B14","t":15,"y":1.4},{"c":"B14","t":20,"y":0.1},{"c":"B14","t":25,"y":-0.8},{"c":"B14","t":30,"y":-1.5},{"c":"B14","t":33,"y":-1.6},{"c":"B14","t":35,"y":-1},{"c":"B14","t":37.5,"y":1.8},{"c":"B14","t":40.1,"y":6.5},
{"c":"B15","t":5.7,"y":7.5},{"c":"B15","t":7.5,"y":5.2},{"c":"B15","t":10,"y":3.1},{"c":"B15","t":12.5,"y":2},{"c":"B15","t":15,"y":1.1},{"c":"B15","t":20,"y":-0.1},{"c":"B15","t":25,"y":-1},{"c":"B15","t":30,"y":-1.6},{"c":"B15","t":33,"y":-1.8},{"c":"B15","t":35,"y":-1.3},{"c":"B15","t":37.5,"y":0.5},{"c":"B15","t":40.1,"y":2.5},
{"c":"B16","t":5.7,"y":3},{"c":"B16","t":7.5,"y":2.5},{"c":"B16","t":10,"y":2},{"c":"B16","t":12.5,"y":1.5},{"c":"B16","t":15,"y":1},{"c":"B16","t":20,"y":0},{"c":"B16","t":25,"y":-0.8},{"c":"B16","t":30,"y":-1.4},{"c":"B16","t":33,"y":-1.5},{"c":"B16","t":35,"y":-2},{"c":"B16","t":37.5,"y":-3.5},{"c":"B16","t":40.1,"y":-7}
]
},
"spacing":32,
"resolve":{"legend":{"color":"independent"}},
"hconcat":[
{
"width":343,"height":427,
"data":{"name":"a"},
"transform":[{"lookup":"c","from":{"data":{"name":"reg"},"key":"c","fields":["region"]}}],
"mark":{"type":"line","interpolate":"monotone","strokeWidth":1.2},
"encoding":{
"x":{"field":"t","type":"quantitative","scale":{"domain":[3.94,41.91],"nice":false,"zero":false},
"axis":{"title":"temperature (deg. Celsius)","values":[5,10,15,20,25,30,35,40],"labelExpr":"datum.value % 10 === 0 ? datum.label : ''","gridWidth":{"condition":{"test":"datum.value % 10 === 0","value":1.1},"value":0.55},"labelPadding":3,"titlePadding":3}},
"y":{"field":"y","type":"quantitative","scale":{"domain":[-0.0153,0.3115],"nice":false,"zero":false},
"axis":{"title":"density","values":[0,0.05,0.1,0.15,0.2,0.25,0.3],"labelExpr":"abs(datum.value*10 - round(datum.value*10)) < 0.001 ? format(datum.value, '.1f') : ''","gridWidth":{"condition":{"test":"abs(datum.value*10 - round(datum.value*10)) < 0.001","value":1.1},"value":0.55}}},
"color":{"field":"region","type":"nominal","scale":{"domain":["Mekong Delta","Midlands and Northern Mountainous Area","Red River Delta"],"range":["#F8766D","#00BA38","#619CFF"]},"legend":{"title":"region","orient":"none","legendX":361,"legendY":178}},
"detail":{"field":"c"}
}
},
{
"width":341,"height":427,
"data":{"name":"b"},
"transform":[{"lookup":"c","from":{"data":{"name":"reg"},"key":"c","fields":["region"]}}],
"mark":{"type":"line","interpolate":"monotone","strokeWidth":1.2},
"encoding":{
"x":{"field":"t","type":"quantitative","scale":{"domain":[3.88,41.97],"nice":false,"zero":false},
"axis":{"title":"temperature (deg. Celsius)","values":[5,10,15,20,25,30,35,40],"labelExpr":"datum.value % 10 === 0 ? datum.label : ''","gridWidth":{"condition":{"test":"datum.value % 10 === 0","value":1.1},"value":0.55},"labelPadding":3,"titlePadding":3}},
"y":{"field":"y","type":"quantitative","scale":{"domain":[-43.34,24.74],"nice":false,"zero":false},
"axis":{"title":"centered clr(density)","values":[-40,-30,-20,-10,0,10,20],"labelExpr":"datum.value % 20 === 0 ? '' + datum.value : ''","gridWidth":{"condition":{"test":"datum.value % 20 === 0","value":1.1},"value":0.55}}},
"color":{"field":"region","type":"nominal","scale":{"domain":["Mekong Delta","Midlands and Northern Mountainous Area","Red River Delta"],"range":["#F8766D","#00BA38","#619CFF"]},"legend":{"title":"region","orient":"none","legendX":359,"legendY":178}},
"detail":{"field":"c"}
}
}
]
}
